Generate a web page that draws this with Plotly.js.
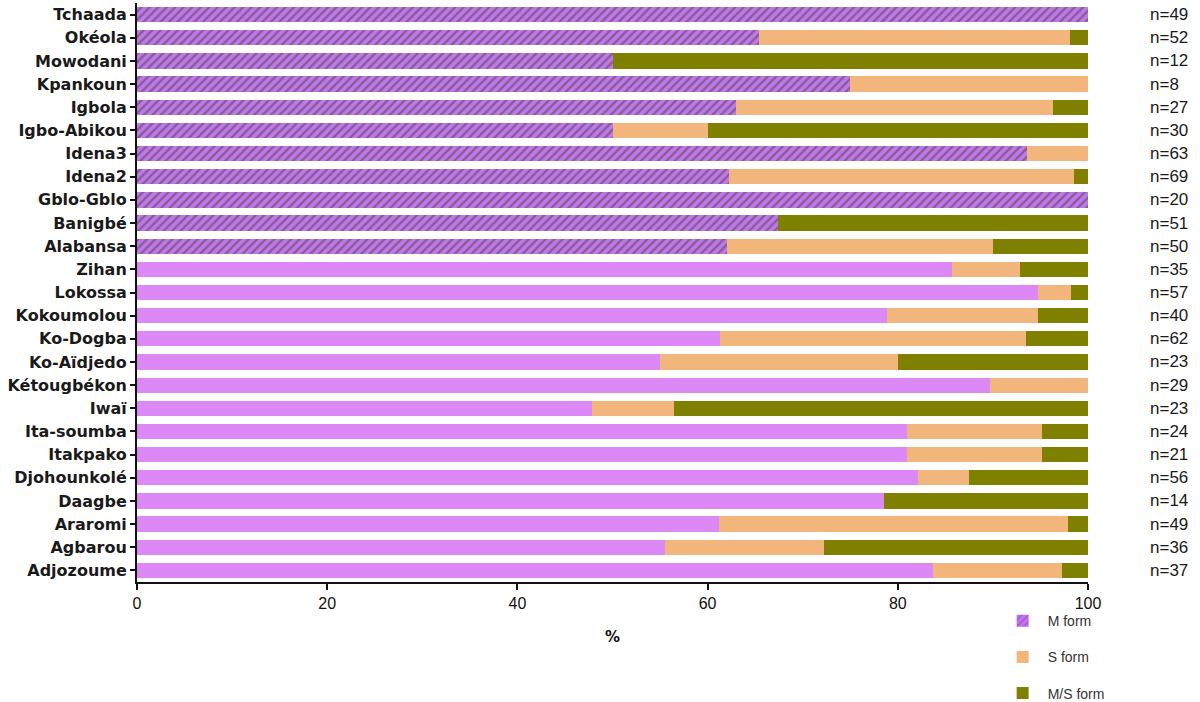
<!DOCTYPE html>
<html>
<head>
<meta charset="utf-8">
<script src="https://cdn.plot.ly/plotly-3.0.1.min.js"></script>
<style>body{margin:0;background:#fff}#plotArea{width:1200px;height:702px}</style>
</head>
<body>
<div id="plotArea"></div>
<script>
// localities, top to bottom
var sites = ["Tchaada", "Okéola", "Mowodani", "Kpankoun", "Igbola", "Igbo-Abikou", "Idena3", "Idena2",
	"Gblo-Gblo", "Banigbé", "Alabansa", "Zihan", "Lokossa", "Kokoumolou", "Ko-Dogba", "Ko-Aïdjedo",
	"Kétougbékon", "Iwaï", "Ita-soumba", "Itakpako", "Djohounkolé", "Daagbe", "Araromi", "Agbarou", "Adjozoume"];
var nSize = [49, 52, 12, 8, 27, 30, 63, 69, 20, 51, 50, 35, 57, 40, 62, 23, 29, 23, 24, 21, 56, 14, 49, 36, 37];

var mForm = [100, 65.4, 50, 75, 63.0, 50, 93.6, 62.3, 100, 67.4, 62, 85.7, 94.7, 78.9, 61.3, 55,
	89.7, 47.8, 81, 81, 82.1, 78.6, 61.2, 55.5, 83.7];
var sForm = [0, 32.7, 0, 25, 33.3, 10, 6.4, 36.2, 0, 0, 28, 7.1, 3.5, 15.8, 32.2, 25,
	10.3, 8.7, 14.2, 14.2, 5.4, 0, 36.7, 16.7, 13.6];
var msForm = [0, 1.9, 50, 0, 3.7, 40, 0, 1.5, 0, 32.6, 10, 7.2, 1.8, 5.3, 6.5, 20,
	0, 43.5, 4.8, 4.8, 12.5, 21.4, 2.1, 27.8, 2.7];

// first 11 sites are drawn hatched
var hatched = sites.map(function (s, i) { return i < 11; });

var traceM = {
	y: sites, x: mForm, type: "bar", orientation: "h", name: "M form",
	legendgroup: "m",
	marker: {
		color: hatched.map(function (h) { return h ? "#c277ea" : "#dc88f7"; }),
		line: {width: 0},
		pattern: {
			shape: hatched.map(function (h) { return h ? "/" : ""; }),
			fillmode: "overlay",
			fgcolor: "#8e3cbf",
			size: 6,
			solidity: 0.4
		}
	},
	hoverinfo: "x+y"
};
var traceS = {
	y: sites, x: sForm, type: "bar", orientation: "h", name: "S form",
	legendgroup: "s",
	marker: {color: "#f2b67c", line: {width: 0}}
};
var traceMS = {
	y: sites, x: msForm, type: "bar", orientation: "h", name: "M/S form",
	legendgroup: "ms",
	marker: {color: "#808000", line: {width: 0}}
};

var notes = sites.map(function (s, i) {
	return {
		xref: "paper", yref: "y", x: 1.063, y: s, xanchor: "left", yanchor: "middle",
		text: "n=" + nSize[i], showarrow: false,
		font: {family: "Liberation Sans, Arial, sans-serif", size: 17, color: "#1a1a1a"}
	};
});
// x axis title, placed by hand below the tick labels
notes.push({
	xref: "paper", yref: "paper", x: 0.5, y: -0.095, xanchor: "center", yanchor: "middle",
	text: "%", showarrow: false,
	font: {family: "DejaVu Sans, sans-serif", size: 15, weight: "bold", color: "#111"}
});

var layout = {
	barmode: "stack",
	bargap: 0.34,
	width: 1200, height: 702,
	margin: {l: 137, r: 112, t: 3, b: 120},
	paper_bgcolor: "#fff", plot_bgcolor: "#fff",
	showlegend: true,
	legend: {
		xref: "paper", yref: "container",
		x: 0.905, y: 0.138, xanchor: "left", yanchor: "top",
		bgcolor: "rgba(0,0,0,0)",
		traceorder: "grouped", tracegroupgap: 15,
		font: {family: "Liberation Sans, Arial, sans-serif", size: 14, color: "#333"},
		itemwidth: 40
	},
	xaxis: {
		range: [0, 100], tickvals: [0, 20, 40, 60, 80, 100],
		showgrid: false, zeroline: false,
		showline: true, linecolor: "#111", linewidth: 2,
		ticks: "outside", ticklen: 6, tickwidth: 2, tickcolor: "#111",
		tickfont: {family: "Liberation Sans, Arial, sans-serif", size: 16, color: "#111"}
	},
	yaxis: {
		autorange: "reversed",
		showgrid: false, zeroline: false,
		showline: true, linecolor: "#111", linewidth: 2,
		ticks: "outside", ticklen: 5, tickwidth: 2, tickcolor: "#111",
		tickfont: {family: "DejaVu Sans, Verdana, sans-serif", size: 16, weight: "bold", color: "#1a1a1a"}
	},
	annotations: notes
};

Plotly.newPlot("plotArea", [traceM, traceS, traceMS], layout, {displayModeBar: false});
</script>
</body>
</html>
